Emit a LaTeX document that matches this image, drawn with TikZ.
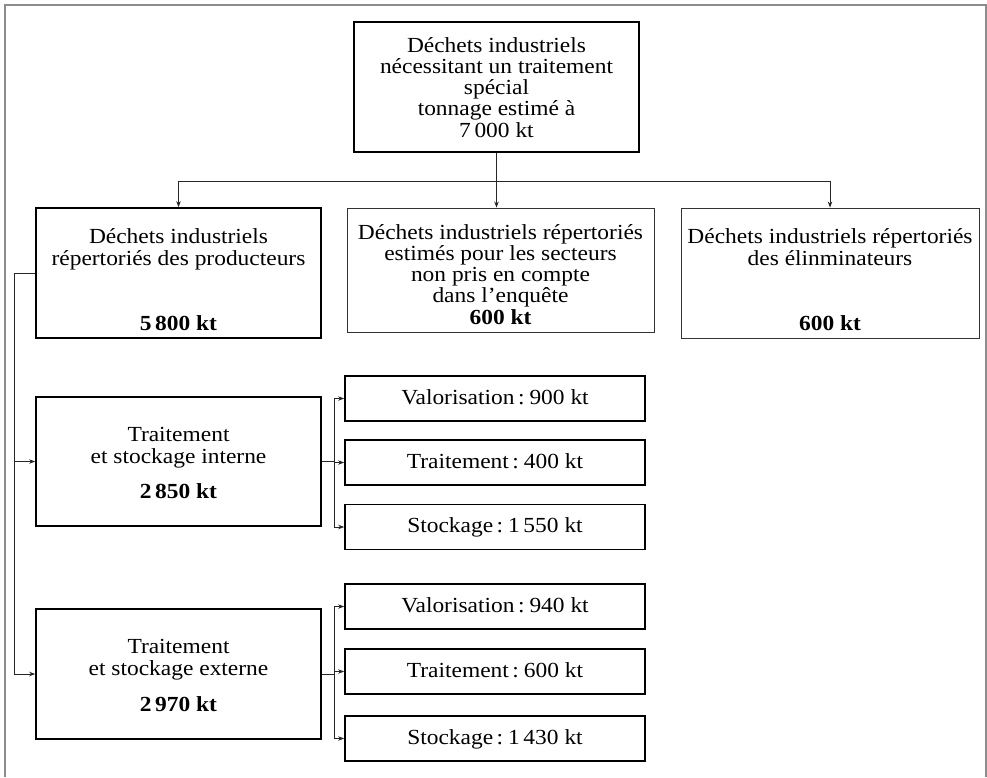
\documentclass[tikz,border=0pt]{standalone}
\usepackage{fontspec}
\setmainfont[FakeStretch=1.09]{Liberation Serif}
\usetikzlibrary{arrows.meta,calc}
\newcommand{\colsp}{\hspace{3.5pt}:\hspace{5pt}}
\begin{document}
\begin{tikzpicture}[x=1pt,y=-1pt,
  font=\fontsize{21.5}{21.2}\selectfont,
  framec/.style={draw=black!45, line width=1.2pt},
  thickbox/.style={draw=black, line width=1.7pt, inner sep=0pt},
  thinbox/.style={draw=black!80, line width=0.9pt, inner sep=0pt},
  smallbox/.style={thickbox, minimum width=300pt, minimum height=45pt, text height=15pt, text depth=4pt},
  txt/.style={align=center, anchor=base, inner sep=0pt},
  conn/.style={draw=black!85, line width=0.8pt},
  arr/.style={conn, -{Stealth[length=6pt,width=4.5pt]}}
]
\useasboundingbox (0,0) rectangle (987,777);
\draw[framec] (5,777) -- (5,5) -- (986,5) -- (986,777);

% boxes
\node[thickbox, minimum width=285pt, minimum height=130pt] (top) at (496.5,87) {};
\node[thickbox, minimum width=285pt, minimum height=130pt] (A) at (178.5,273) {};
\node[thinbox, minimum width=307pt, minimum height=124pt] (B) at (500.5,270) {};
\node[thinbox, minimum width=298pt, minimum height=130pt] (C) at (830,273) {};
\node[thickbox, minimum width=285pt, minimum height=129pt] (D) at (178.5,461.5) {};
\node[thickbox, minimum width=285pt, minimum height=130pt] (E) at (178.5,674) {};

\node[smallbox] (V1) at (495,398.5) {Valorisation\colsp900 kt};
\node[smallbox] (T1) at (495,462.5) {Traitement\colsp400 kt};
\node[smallbox] (S1) at (495,527) {Stockage\colsp1\,550 kt};
\node[smallbox] (V2) at (495,606.5) {Valorisation\colsp940 kt};
\node[smallbox] (T2) at (495,671.5) {Traitement\colsp600 kt};
\node[smallbox] (S2) at (495,738.5) {Stockage\colsp1\,430 kt};

% texts (anchor base = baseline of last line)
\node[txt] (topt) at (496.5,137) {Déchets industriels\\nécessitant un traitement\\spécial\\tonnage estimé à\\7\,000 kt};
\node[txt] (At) at (178.5,265) {Déchets industriels\\répertoriés des producteurs};
\node[txt] (Av) at (178.5,330) {\bfseries 5\,800 kt};
\node[txt] (Bt) at (500.5,324) {Déchets industriels répertoriés\\estimés pour les secteurs\\non pris en compte\\dans l’enquête\\\bfseries 600 kt};
\node[txt] (Ct) at (830,265) {Déchets industriels répertoriés\\des élinminateurs};
\node[txt] (Cv) at (830,330) {\bfseries 600 kt};
\node[txt] (Dt) at (178.5,463) {Traitement\\et stockage interne};
\node[txt] (Dv) at (178.5,498) {\bfseries 2\,850 kt};
\node[txt] (Et) at (178.5,675) {Traitement\\et stockage externe};
\node[txt] (Ev) at (178.5,711) {\bfseries 2\,970 kt};

% top branch
\coordinate (bj) at ($(top.south)+(0,29)$);
\draw[conn] (top.south) -- (bj);
\draw[arr] (bj) -| (A.north);
\draw[arr] (bj) -- (bj |- B.north);
\draw[arr] (bj) -| (C.north);

% left connector
\coordinate (lj) at ($(A.west)+(-21,0)$);
\draw[conn] (A.west) -- (lj);
\draw[arr] (lj) |- (D.west);
\draw[arr] (lj) |- (E.west);

% right connectors
\coordinate (dj) at ($(D.east)+(13,0)$);
\draw[conn] (D.east) -- (dj);
\draw[arr] (dj) |- (V1.west);
\draw[arr] (dj) |- (T1.west);
\draw[arr] (dj) |- (S1.west);

\coordinate (ej) at ($(E.east)+(13,0)$);
\draw[conn] (E.east) -- (ej);
\draw[arr] (ej) |- (V2.west);
\draw[arr] (ej) |- (T2.west);
\draw[arr] (ej) |- (S2.west);
\end{tikzpicture}
\end{document}
